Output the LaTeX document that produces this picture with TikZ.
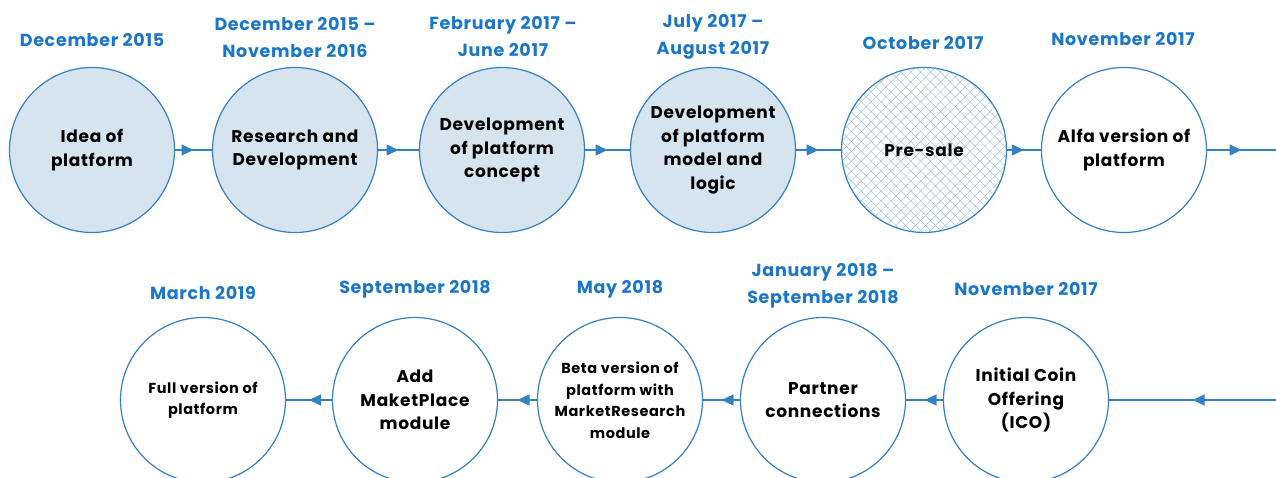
\documentclass[tikz,border=0pt]{standalone}
\usepackage{fontspec}
\setmainfont{Poppins}[LetterSpace=4]
\usepackage{tikz}
\usetikzlibrary{arrows.meta}
\usetikzlibrary{decorations.markings}
\usetikzlibrary{patterns.meta}
\definecolor{stepblue}{RGB}{52,128,196}
\definecolor{dateblue}{RGB}{28,118,200}
\definecolor{donefill}{RGB}{213,228,238}
\definecolor{hatchblue}{RGB}{160,196,226}

\begin{document}
\begin{tikzpicture}
        [x=1pt,y=-1pt,
        done/.style={circle,draw=stepblue,line width=1.2pt,fill=donefill,minimum size=165pt,inner sep=0pt,align=center,font=\bfseries\fontsize{17}{23.5}\selectfont},
        todo/.style={done,fill=white},
        hatched/.style={done,fill=none,pattern={Hatch[angle=45,distance=7pt,line width=0.5pt]},pattern color=hatchblue},
        small/.style={font=\bfseries\fontsize{14.5}{21.5}\selectfont},
        date/.style={text=dateblue,align=center,font=\bfseries\fontsize{17.5}{27}\selectfont},
        link/.style={line width=1.3pt,draw=stepblue,postaction={decorate},
          decoration={markings,mark=at position 0.5 with {\arrow[stepblue]{Triangle[length=12pt,width=11pt]}}}}]

\useasboundingbox (0,0) rectangle (1276,478);

% first row
\node[done] at (92,150) (idea) {Idea of\\platform};
\node[done] at (295,150) (research) {Research and\\Development};
\node[done] at (502,150) (concept) {Development\\of platform\\concept};
\node[done] at (713,150) (model) {Development\\of platform\\model and\\logic};
\node[hatched] at (924,150) (presale) {Pre-sale};
\node[todo] at (1124,150) (alfa) {Alfa version of\\platform};
\coordinate (rowend) at (1276,150);

% second row
\coordinate (rowstart) at (1276,400);
\node[todo] at (1026,400) (ico) {Initial Coin\\Offering\\(ICO)};
\node[todo] at (823,400) (partner) {Partner\\connections};
\node[todo,small] at (620,400) (beta) {Beta version of\\platform with\\MarketResearch\\module};
\node[todo] at (415,400) (market) {Add\\MaketPlace\\module};
\node[todo,small] at (203,400) (full) {Full version of\\platform};

% dates
\node[date] at (92,40) {December 2015};
\node[date] at (295,38) {December 2015 --\\November 2016};
\node[date] at (503,37) {February 2017 --\\June 2017};
\node[date] at (713,37) {July 2017 --\\August 2017};
\node[date] at (923,43) {October 2017};
\node[date] at (1123,39) {November 2017};
\node[date] at (203,293) {March 2019};
\node[date] at (415,289) {September 2018};
\node[date] at (620,289) {May 2018};
\node[date] at (823,286) {January 2018 --\\September 2018};
\node[date] at (1026,289) {November 2017};

%arrows
\draw[link] (idea) -- (research);
\draw[link] (research) -- (concept);
\draw[link] (concept) -- (model);
\draw[link] (model) -- (presale);
\draw[link] (presale) -- (alfa);
\draw[link] (alfa) -- (rowend);
\draw[link] (rowstart) -- (ico);
\draw[link] (ico) -- (partner);
\draw[link] (partner) -- (beta);
\draw[link] (beta) -- (market);
\draw[link] (market) -- (full);

\end{tikzpicture}
\end{document}
